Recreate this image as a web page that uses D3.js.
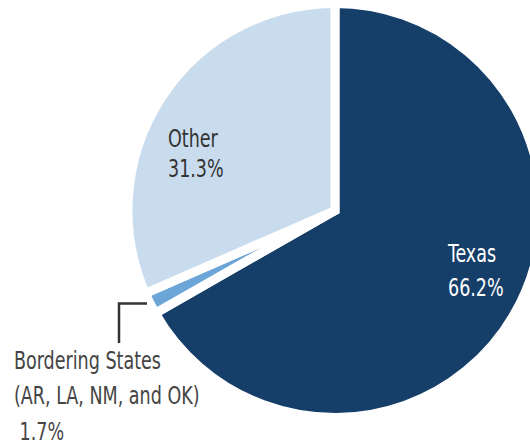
<!DOCTYPE html>
<html>
<head>
<meta charset="utf-8">
<script src="https://cdn.jsdelivr.net/npm/d3@7"></script>
<style>
  html, body { margin: 0; padding: 0; background: #fff; }
  text { font-family: "DejaVu Sans Condensed", "DejaVu Sans", sans-serif; }
</style>
</head>
<body>
<svg id="chart" width="530" height="445"></svg>
<script>
const categories = ["Texas", "Bordering States", "Other"];
const shares = [66.2, 1.7, 31.3];
const colors = ["#153f69", "#6ca5d7", "#c9dcee"];

const svg = d3.select("#chart");
const cx = 335, cy = 210.5, R = 207;
const g = svg.append("g").attr("transform", `translate(${cx},${cy})`);

const pie = d3.pie().sort(null).value(d => d.v);
const arcs = pie(categories.map((c, i) => ({ c, v: shares[i], col: colors[i] })));
const arc = d3.arc().innerRadius(0).outerRadius(R);

g.selectAll("path").data(arcs).join("path")
  .attr("d", arc)
  .attr("fill", d => d.data.col)
  .attr("stroke", "#fff")
  .attr("stroke-width", 9)
  .attr("stroke-linejoin", "miter");

// Labels (condensed by horizontal scaling)
function label(x, y, lines, color, dy) {
  const grp = svg.append("g").attr("transform", `translate(${x},${y}) scale(0.78,1)`);
  const t = grp.append("text").attr("x", 0).attr("y", 0)
    .attr("fill", color).attr("font-size", 25);
  lines.forEach((l, i) => {
    t.append("tspan").attr("x", 0).attr("dy", i === 0 ? 0 : dy).text(l);
  });
}
label(448, 262, ["Texas", shares[0].toFixed(1) + "%"], "#ffffff", 34);
label(168, 147, ["Other", shares[2].toFixed(1) + "%"], "#333333", 30);
label(14, 369, ["Bordering States", "(AR, LA, NM, and OK)", "\u00a0" + shares[1].toFixed(1) + "%"], "#444444", 35.5);

// Leader line for Bordering States
svg.append("path")
  .attr("d", "M147,303.5 H119 V343")
  .attr("fill", "none")
  .attr("stroke", "#333")
  .attr("stroke-width", 2.5);
</script>
</body>
</html>
